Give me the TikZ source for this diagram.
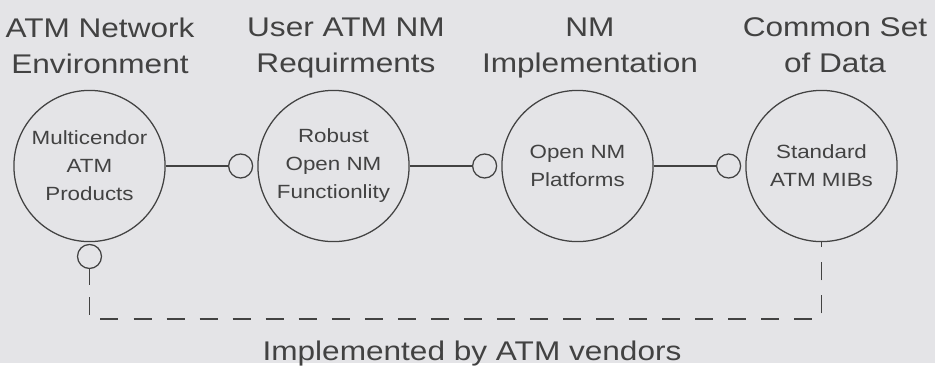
\documentclass[tikz,border=0pt]{standalone}
\usepackage{fontspec}
\setmainfont[FakeStretch=1.17]{Liberation Sans}
\usetikzlibrary{positioning}
\definecolor{paper}{RGB}{228,228,231}
\definecolor{ink}{RGB}{66,66,66}

\begin{document}
\begin{tikzpicture}[auto, node distance =6.1cm, on grid, color=ink, line width=0.9pt,
        area/.style={circle, draw, minimum size=3.78cm, inner sep=0pt, align=center,
        font=\fontsize{13.6}{19.9}\selectfont},
        plug/.style={circle, draw, minimum size=0.6cm, inner sep=0pt},
        head/.style={anchor=north, inner sep=0pt, align=center, font=\fontsize{19.2}{25.6}\selectfont}]
        \fill[paper] (0,0) rectangle (23.375,-9.075);

        \node[area] (Prod) at (2.2375,-4.15) {Multicendor\\ATM\\Products};
        \node[area] (Func) [right=of Prod] {Robust\\Open NM\\Functionlity};
        \node[area] (Plat) [right=of Func] {Open NM\\Platforms};
        \node[area] (MIBs) [right=of Plat] {Standard\\ATM MIBs};

        \node[plug] (FuncIn) [left=0.1cm of Func.west] {};
        \node[plug] (PlatIn) [left=0.1cm of Plat.west] {};
        \node[plug] (MIBsIn) [left=0.1cm of MIBs.west] {};
        \node[plug] (ProdOut) [below=0.04cm of Prod.south] {};
        \coordinate[below=0.4cm of ProdOut.south] (tail);
        \coordinate[below=0.85cm of tail] (corner);

        \node[head] (EnvHead) at (2.5,-0.425) {ATM Network\\Environment};
        \node[head] (ReqHead) at (8.65,-0.425) {User ATM NM\\Requirments};
        \node[head] (ImpHead) at (14.75,-0.425) {NM\\Implementation};
        \node[head] (DatHead) at (20.875,-0.425) {Common Set\\of Data};
        \node[anchor=base, inner sep=0pt, font=\fontsize{19.2}{25.6}\selectfont] (vendors) at (11.8,-9.0) {Implemented by ATM vendors};

        \path (Prod) edge [] (FuncIn);
        \path (Func) edge [] (PlatIn);
        \path (Plat) edge [] (MIBsIn);
        \path (ProdOut) edge [] (tail);
        \draw[line width=1pt, dash pattern=on 12.8pt off 10.7pt, dash phase=15pt] (tail) -- (corner) -| (MIBs.south);
\end{tikzpicture}
\end{document}
